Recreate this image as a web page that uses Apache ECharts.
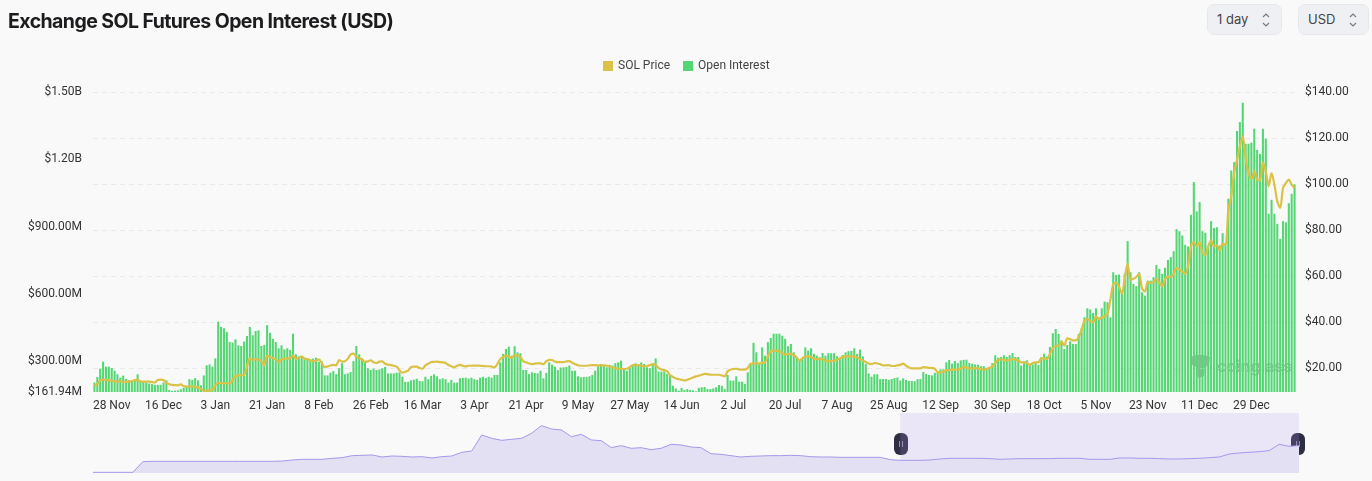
<!DOCTYPE html>
<html>
<head>
<meta charset="utf-8">
<title>Exchange SOL Futures Open Interest (USD)</title>
<script src="https://cdn.jsdelivr.net/npm/echarts@6/dist/echarts.min.js"></script>
<style>
  html, body { margin: 0; padding: 0; background: #f9f9f9; }
  #chart { position: absolute; left: 0; top: 0; width: 1372px; height: 481px; }
  .heading {
    position: absolute; left: 8px; top: 9px; margin: 0;
    font: 700 19.5px/24px Inter, sans-serif; letter-spacing: -0.57px; color: #1c1c1e;
  }
  .pick {
    position: absolute; top: 4px; height: 31px; box-sizing: border-box;
    background: #eff0f3; border: 1px solid #e7e8ec; border-radius: 7px;
    font: 13px Inter, sans-serif; color: #444; line-height: 29px; padding-left: 9px;
  }
  .pick svg { position: absolute; right: 10px; top: 7px; }
</style>
</head>
<body>
<div id="chart"></div>
<h1 class="heading">Exchange SOL Futures Open Interest (USD)</h1>
<div class="pick" style="left:1207px;width:75px">1 day
  <svg width="10" height="16" viewBox="0 0 10 16" fill="none" stroke="#777" stroke-width="1.1"><path d="M2 5l3-3 3 3M2 11l3 3 3-3"/></svg>
</div>
<div class="pick" style="left:1298px;width:71px">USD
  <svg width="10" height="16" viewBox="0 0 10 16" fill="none" stroke="#777" stroke-width="1.1"><path d="M2 5l3-3 3 3M2 11l3 3 3-3"/></svg>
</div>
<script>
// open interest, $M, one bar per day from 22 Nov 2022
const openInterest = [
  204,229,266,297,275,275,269,257,241,226,
  235,220,214,214,214,241,210,208,204,200,
  197,194,194,194,204,214,171,167,168,169,
  174,181,189,219,216,224,214,192,236,281,
  285,275,312,476,452,446,430,385,382,397,
  370,367,387,412,452,415,434,437,367,372,
  460,426,399,385,357,370,352,357,350,422,
  330,320,320,308,311,308,311,315,297,299,
  236,236,248,255,241,268,290,241,245,251,
  300,367,330,311,297,268,260,266,260,263,
  268,274,245,245,245,248,249,230,207,207,
  214,217,221,211,210,230,219,234,241,232,
  219,223,219,204,216,204,204,223,225,226,
  222,226,219,216,226,230,225,230,226,238,
  238,294,332,354,364,324,366,339,335,260,
  260,242,250,247,245,257,223,247,294,284,
  275,260,271,272,274,280,257,257,232,227,
  229,229,232,238,257,277,287,280,272,283,
  280,291,294,302,265,257,269,284,290,280,
  294,287,272,268,287,312,253,253,254,242,
  238,190,178,168,180,171,175,171,169,165,
  180,183,184,175,175,178,183,193,190,175,
  238,213,213,232,208,208,198,250,287,381,
  339,287,361,324,384,403,422,422,422,413,
  399,366,376,339,317,302,309,361,347,357,
  332,324,317,336,324,335,335,335,321,309,
  327,339,344,345,357,332,351,321,287,245,
  230,241,241,219,220,220,216,220,224,227,
  213,223,216,211,211,210,219,220,251,242,
  238,236,248,253,263,263,294,305,288,300,
  291,303,305,306,291,288,285,283,277,277,
  265,274,291,326,315,318,326,318,326,336,
  318,318,280,299,303,285,285,294,283,317,
  333,320,363,424,443,421,391,354,372,388,
  376,376,421,446,495,535,530,515,535,495,
  535,565,562,495,696,684,686,607,689,835,
  696,644,634,696,607,592,659,659,674,729,
  711,689,716,751,763,790,888,879,860,818,
  811,952,1098,968,1009,879,872,815,924,893,
  897,815,870,823,1024,1150,1187,1326,1366,1452,
  1269,1269,1274,1336,1242,1224,1336,1291,957,1019,
  957,912,845,924,919,1004,1046,1088
];

// SOL price, USD, same days
const solPrice = [
  12.3,13.0,14.6,15.0,14.9,14.6,14.5,14.3,14.0,14.4,
  14.0,14.1,14.1,14.3,14.8,14.9,14.2,14.1,14.1,14.1,
  13.9,13.8,14.8,15.0,14.8,13.6,13.0,12.7,12.6,12.5,
  12.9,12.2,12.0,12.0,12.0,11.8,11.6,10.9,10.1,10.2,
  10.2,10.5,12.5,13.6,13.5,13.4,13.4,13.2,14.8,16.5,
  16.8,16.8,17.0,20.7,24.3,23.5,23.9,23.6,23.0,21.2,
  25.4,24.8,24.3,23.8,22.6,23.8,24.1,24.1,24.3,25.5,
  24.0,24.5,25.0,24.2,23.9,23.2,22.9,23.2,23.8,22.2,
  20.4,20.7,21.1,21.4,21.2,23.5,22.8,23.0,24.0,25.9,
  26.3,25.0,24.2,23.8,22.7,22.9,23.4,22.5,22.2,22.8,
  22.9,21.9,21.5,21.3,21.0,20.6,19.0,18.0,18.4,18.9,
  20.4,20.6,20.6,20.0,19.7,21.2,21.9,22.6,22.7,22.8,
  22.6,22.5,22.2,21.3,20.8,20.3,21.0,21.4,21.0,20.7,
  21.0,21.0,21.1,21.1,21.0,20.9,20.8,20.8,20.7,20.3,
  21.7,23.9,24.8,25.4,24.9,24.6,25.5,25.5,24.8,22.9,
  22.5,22.0,21.7,21.9,22.0,22.0,21.7,22.9,23.6,23.5,
  22.8,22.6,22.6,22.6,22.9,23.0,22.3,21.7,21.2,21.0,
  21.0,21.0,21.2,21.3,21.3,21.2,21.2,21.2,21.0,20.7,
  20.3,20.0,19.7,19.7,19.6,19.7,20.4,21.2,21.3,21.3,
  21.0,20.7,20.9,21.3,21.7,21.4,20.1,19.4,19.1,18.6,
  17.0,16.1,15.5,15.2,14.9,14.6,14.9,15.4,15.9,16.4,
  16.7,17.1,17.5,17.4,17.1,17.1,17.1,17.1,16.8,16.4,
  18.6,19.3,19.6,19.7,19.4,19.3,19.3,20.0,21.9,22.0,
  22.0,22.0,22.2,22.5,25.1,27.2,27.7,27.5,27.2,26.5,
  25.8,26.2,26.2,25.7,24.6,23.3,24.3,25.1,25.1,24.8,
  24.1,23.9,23.9,23.9,23.2,22.9,23.0,23.2,23.6,24.2,
  24.8,25.1,25.1,25.1,25.1,24.6,23.9,23.3,22.6,22.0,
  21.7,22.2,22.0,21.7,21.2,21.2,21.3,20.9,20.9,21.2,
  21.4,21.9,21.0,20.3,19.9,19.9,19.9,19.9,20.4,20.3,
  20.1,20.0,19.7,18.3,18.1,18.4,19.0,19.1,19.3,19.3,
  19.3,19.7,20.6,20.1,19.9,19.9,20.0,19.9,19.6,19.3,
  19.6,20.1,20.7,22.2,23.6,23.8,23.5,23.3,23.5,23.9,
  23.8,23.3,22.5,22.5,22.3,21.4,22.2,22.5,22.5,24.3,
  24.2,23.9,26.2,28.7,29.6,29.7,31.6,29.7,32.9,32.6,
  32.0,32.0,33.5,36.7,40.7,41.3,40.3,39.9,42.5,41.3,
  41.9,42.5,43.6,49.7,56.5,57.0,55.5,52.3,59.1,65.4,
  58.4,58.8,59.6,61.0,54.5,53.3,57.4,57.0,57.4,58.8,
  57.2,55.5,58.7,59.6,59.6,61.0,63.5,62.8,61.9,61.0,
  64.2,72.9,74.8,72.9,74.6,70.0,69.3,72.9,75.5,72.9,
  73.3,71.2,74.1,73.6,88.8,94.6,104.8,110.6,116.4,120.7,
  111.3,104.8,102.2,105.5,101.9,101.6,109.4,105.5,99.0,104.8,
  99.7,92.5,89.6,98.3,100.4,101.9,99.7,98.3
];

// whole-history open interest behind the range selector, $M
const historyOI = [
  34,34,34,34,34,575,592,592,592,592,592,592,592,592,592,592,592,592,592,
  608,659,693,693,693,744,777,879,896,913,811,862,845,811,828,761,828,862,1048,1115,
  1927,1758,1656,1707,1758,2011,2400,2231,2180,1842,1960,1673,1639,1284,1386,1251,1284,1183,1251,1453,
  1420,1318,1284,980,946,879,811,845,862,879,879,896,879,828,811,811,794,794,794,794,794,
  676,642,642,642,659,710,744,744,744,744,727,693,710,727,727,727,727,744,744,744,
  693,693,693,761,761,744,744,727,710,710,727,744,777,811,963,1014,1048,1082,1132,1453,1352,1386
];

const leftTicks = [161.94, 300, 600, 900, 1200, 1500];
const rightTicks = [20, 40, 60, 80, 100, 120, 140];
const monthNames = ['Jan','Feb','Mar','Apr','May','Jun','Jul','Aug','Sep','Oct','Nov','Dec'];

const categories = openInterest.map((_, i) => {
  const d = new Date(Date.UTC(2022, 10, 22 + i));
  return d.getUTCDate() + ' ' + monthNames[d.getUTCMonth()];
});
const historyIndex = historyOI.map((_, i) => String(i));
const selectedFrom = 81; // where the range selector's window starts

const labelFont = 'Roboto, sans-serif';
const chart = echarts.init(document.getElementById('chart'));

function formatOI(v) {
  return v >= 1000 ? '$' + (v / 1000).toFixed(2) + 'B' : '$' + v.toFixed(2) + 'M';
}

function handle(x) {
  return {
    type: 'group', x: x, y: 444, z: 20,
    children: [
      { type: 'rect', shape: { x: -7, y: -11, width: 14, height: 22, r: 6 }, style: { fill: '#2e2e42' } },
      { type: 'line', shape: { x1: -1.5, y1: -3, x2: -1.5, y2: 3 }, style: { stroke: '#8f8fa3', lineWidth: 1 } },
      { type: 'line', shape: { x1: 1.5, y1: -3, x2: 1.5, y2: 3 }, style: { stroke: '#8f8fa3', lineWidth: 1 } }
    ]
  };
}

chart.setOption({
  animation: false,
  backgroundColor: '#f9f9f9',
  textStyle: { fontFamily: labelFont },
  tooltip: { trigger: 'axis' },
  legend: {
    top: 55, left: 598,
    itemWidth: 10, itemHeight: 10, itemGap: 13,
    textStyle: { fontFamily: labelFont, fontSize: 12, color: '#444' },
    data: [
      { name: 'SOL Price', icon: 'rect' },
      { name: 'Open Interest', icon: 'rect' }
    ]
  },
  grid: [
    { left: 93, right: 76, top: 92, height: 300 },
    { left: 93, width: 1206, top: 413, height: 60 }
  ],
  xAxis: [
    {
      type: 'category', data: categories, gridIndex: 0,
      axisLine: { show: false }, axisTick: { show: false },
      axisLabel: {
        color: '#333', fontSize: 12, fontFamily: labelFont, margin: 8,
        interval: (i) => i % 18 === 6
      }
    },
    {
      type: 'category', data: historyIndex, gridIndex: 1, boundaryGap: false,
      axisLine: { show: false }, axisTick: { show: false }, axisLabel: { show: false }
    }
  ],
  yAxis: [
    {
      type: 'value', gridIndex: 0, min: 161.94, max: 1500,
      axisLine: { show: false }, axisTick: { show: false, customValues: leftTicks },
      splitLine: { show: false },
      axisLabel: { customValues: leftTicks, color: '#333', fontSize: 12, fontFamily: labelFont, margin: 11, padding: [2, 0, 0, 0], formatter: formatOI }
    },
    {
      type: 'value', gridIndex: 0, position: 'right', min: 9.6, max: 140,
      axisLine: { show: false }, axisTick: { show: false, customValues: rightTicks },
      splitLine: { show: true, lineStyle: { color: '#e9e9e9', type: [5, 4], width: 1 } },
      axisLabel: { customValues: rightTicks, color: '#333', fontSize: 12, fontFamily: labelFont, margin: 9, padding: [2, 0, 0, 0], formatter: (v) => '$' + v.toFixed(2) }
    },
    {
      type: 'value', gridIndex: 1, min: 0, max: 3040, show: false
    }
  ],
  series: [
    {
      name: 'Open Interest', type: 'bar', xAxisIndex: 0, yAxisIndex: 0,
      data: openInterest, barWidth: '72%',
      itemStyle: { color: '#55d674' }
    },
    {
      name: 'SOL Price', type: 'line', xAxisIndex: 0, yAxisIndex: 1,
      data: solPrice, showSymbol: false, smooth: 0.3, z: 5,
      lineStyle: { color: '#dbc246', width: 2.2 }, itemStyle: { color: '#dbc246' }
    },
    {
      name: 'history', type: 'line', xAxisIndex: 1, yAxisIndex: 2,
      data: historyOI, showSymbol: false, silent: true, tooltip: { show: false },
      lineStyle: { color: '#a598ea', width: 1 },
      areaStyle: { color: '#e4e0f3', opacity: 1 },
      markArea: {
        silent: true,
        itemStyle: { color: 'rgba(176,150,240,0.2)' },
        data: [[{ xAxis: String(selectedFrom) }, { xAxis: String(historyOI.length - 1) }]]
      }
    }
  ],
  graphic: [
    handle(901),
    handle(1298),
    {
      type: 'group', x: 1190, y: 355, z: 10, silent: true,
      children: [
        {
          type: 'polygon',
          shape: { points: [[0,2],[6,0],[14,0],[20,2],[19,10],[15,12],[14,21],[9,23],[7,21],[6,12],[2,10]] },
          style: { fill: 'rgba(150,150,150,0.75)' }
        },
        {
          type: 'text', x: 27, y: 4,
          style: { text: 'coinglass', font: '700 16px Inter, sans-serif', fill: 'rgba(150,150,150,0.7)' }
        }
      ]
    }
  ]
});
</script>
</body>
</html>
